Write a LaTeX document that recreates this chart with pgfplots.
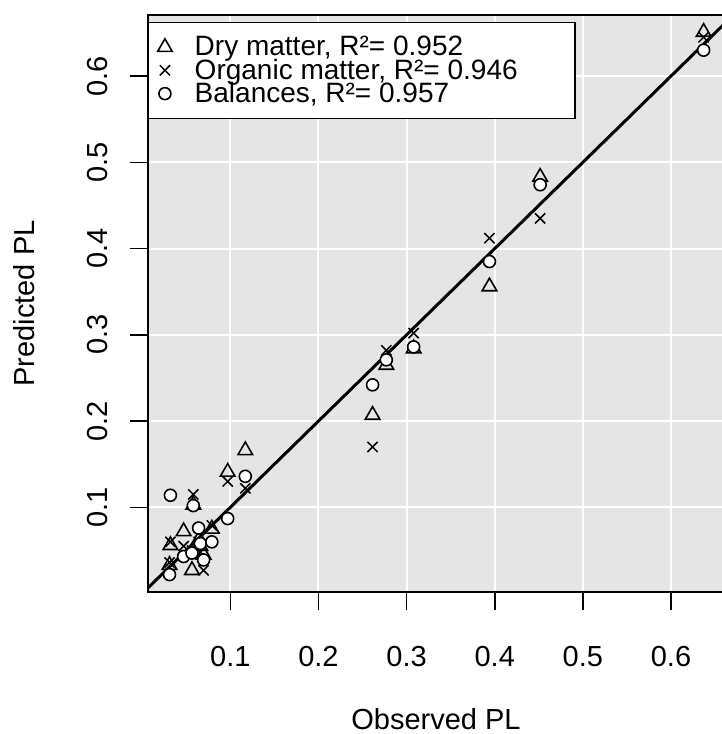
\documentclass[border=0pt]{standalone}
\usepackage{fontspec}
\setmainfont{Liberation Sans}
\usepackage{pgfplots}
\usepackage{pgfplotstable}
\pgfplotsset{compat=1.18}
\definecolor{panel}{RGB}{229,229,229}
\pgfplotstableread{
x tri cro cir
0.032 0.056 0.060 0.114
0.031 0.033 0.036 0.022
0.047 0.072 0.055 0.043
0.0565 0.027 0.050 0.047
0.058 0.103 0.115 0.102
0.064 0.062 0.060 0.076
0.066 0.055 0.048 0.058
0.0697 0.045 0.027 0.039
0.079 0.075 0.079 0.060
0.097 0.141 0.130 0.087
0.117 0.166 0.122 0.136
0.2614 0.207 0.170 0.242
0.277 0.265 0.282 0.271
0.308 0.284 0.302 0.286
0.394 0.356 0.412 0.385
0.4515 0.483 0.435 0.474
0.637 0.651 0.645 0.630
}\data
\newcommand{\lgs}{\rule[-3.5bp]{0pt}{13.5bp}}
\begin{document}
\begin{tikzpicture}
\begin{axis}[
  scale only axis, width=288bp, height=288.5bp,
  xmin=0.0066, xmax=0.6601, ymin=0.00185, ymax=0.6708,
  axis background/.style={fill=panel},
  axis line style={black, line width=0.8bp},
  xtick={0.1,0.2,0.3,0.4,0.5,0.6}, ytick={0.1,0.2,0.3,0.4,0.5,0.6},
  xticklabels={0.1,0.2,0.3,0.4,0.5,0.6}, yticklabels={0.1,0.2,0.3,0.4,0.5,0.6},
  grid=major, major grid style={white, line width=1bp},
  tick align=outside, xtick pos=bottom, ytick pos=left,
  major tick length=9bp, tick style={black, line width=0.8bp},
  font=\fontsize{14.5bp}{17bp}\selectfont,
  xticklabel style={anchor=base, yshift=-28bp},
  yticklabel style={xshift=-11bp, rotate=90, anchor=base},
  xlabel={Observed PL}, ylabel={Predicted PL},
  xlabel style={at={(axis description cs:0.5,-0.238)}, anchor=base},
  ylabel style={at={(axis description cs:-0.197,0.5)}, rotate=0, anchor=base},
  legend cell align=left,
  legend image code/.code={\path[draw=none] (-11bp,0) -- (12bp,0); \draw[#1] plot coordinates {(0bp,0bp)};},
  legend style={at={(0,0.9879)}, anchor=north west, draw=black, line width=0.75bp,
    fill=white, inner xsep=0pt, inner ysep=6.5bp, row sep=0pt, column sep=0pt,
    nodes={inner sep=0pt}, font=\fontsize{14bp}{16bp}\selectfont},
]
\coordinate (bbsw) at (rel axis cs:0,0);
\coordinate (bbne) at (axis cs:0.657,0.6708);
\addplot[only marks, mark=triangle, mark size=4.2bp, mark options={black, line width=0.8bp}] table[x=x, y=tri] {\data};
\addlegendentry{\makebox[190bp][l]{\lgs Dry matter, R²= 0.952}}
\addplot[only marks, mark=x, mark size=3.6bp, mark options={black, line width=0.75bp}] table[x=x, y=cro] {\data};
\addlegendentry{\makebox[190bp][l]{\lgs Organic matter, R²= 0.946}}
\addplot[only marks, mark=*, mark size=3bp, mark options={draw=black, fill=white, line width=0.8bp}] table[x=x, y=cir] {\data};
\addlegendentry{\makebox[190bp][l]{\lgs Balances, R²= 0.957}}
\addplot[black, line width=1.5bp, forget plot] coordinates {(0,0) (0.7,0.7)};
\end{axis}
\pgfresetboundingbox
\path ([xshift=-74bp,yshift=-71bp]bbsw) rectangle ([yshift=7.5bp]bbne);
\end{tikzpicture}
\end{document}
